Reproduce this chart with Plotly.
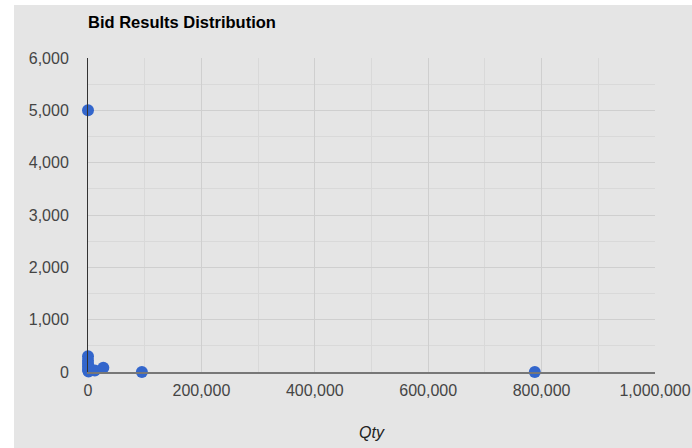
import plotly.graph_objects as go

# Data
qty = [0, 0, 0, 0, 0, 0, 1000, 3000, 12000, 27000, 95000, 788000]
price = [5000, 300, 220, 160, 100, 40, 10, 60, 30, 80, 0, 0]

x_ticks = [0, 200000, 400000, 600000, 800000, 1000000]
y_ticks = [0, 1000, 2000, 3000, 4000, 5000, 6000]

BG = "#e5e5e5"
FONT = "Arial, Liberation Sans, sans-serif"

fig = go.Figure()
fig.add_trace(go.Scatter(
    x=qty, y=price, mode="markers",
    marker=dict(color="#3366cc", size=12),
    cliponaxis=False, hoverinfo="x+y", showlegend=False,
))

W, H = 692, 448
L, R, T, B = 88, 37, 58, 76
pw, ph = W - L - R, H - T - B

# gray panel (starts a few px from the left/top page edge)
fig.add_shape(type="rect", xref="paper", yref="paper", layer="below",
              x0=(14 - L) / pw, x1=(W + 5 - L) / pw,
              y0=-(B + 5) / ph, y1=(H - B - 5) / ph,
              fillcolor=BG, line=dict(width=0))

fig.update_layout(
    width=W, height=H,
    margin=dict(l=L, r=R, t=T, b=B, autoexpand=False),
    paper_bgcolor="white", plot_bgcolor=BG,
    font=dict(family=FONT, size=16, color="#444"),
    title=dict(text="<b>Bid Results Distribution</b>", x=L / W, xanchor="left",
               y=1 - 22 / H, yanchor="middle",
               font=dict(family=FONT, size=16.5, color="#000")),
    xaxis=dict(
        range=[0, 1000000], tickvals=x_ticks, tickformat=",d", automargin=False,
        showgrid=True, gridcolor="#cfcfcf", gridwidth=1,
        minor=dict(dtick=100000, showgrid=True, gridcolor="#d9d9d9"),
        zeroline=False, showline=True, linecolor="#777", linewidth=2,
        ticks="outside", ticklen=3, tickcolor="rgba(0,0,0,0)",
        title=dict(text="<i>Qty</i>", standoff=29, font=dict(size=16, color="#222")),
    ),
    yaxis=dict(
        range=[0, 6000], tickvals=y_ticks, tickformat=",d", automargin=False,
        showgrid=True, gridcolor="#cfcfcf", gridwidth=1,
        minor=dict(dtick=500, showgrid=True, gridcolor="#d9d9d9"),
        zeroline=False, showline=True, linecolor="#333", linewidth=1,
        ticks="outside", ticklen=15, tickcolor="rgba(0,0,0,0)",
    ),
)

fig.write_html("out.html", config={"displayModeBar": False},
               post_script="document.body.style.margin='0';")
